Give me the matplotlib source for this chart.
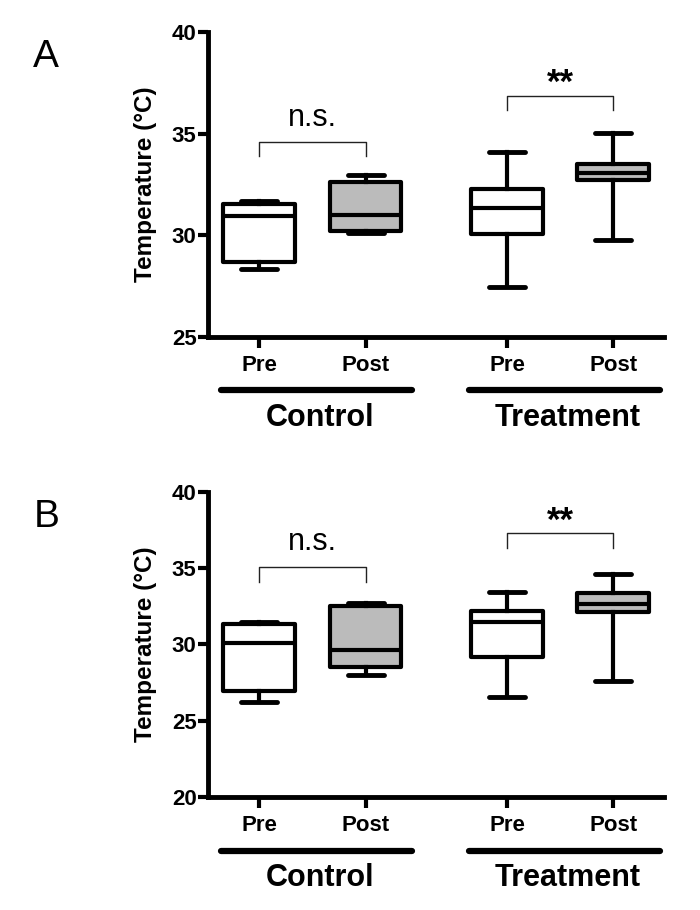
import matplotlib
matplotlib.use('Agg')
import matplotlib.pyplot as plt
from matplotlib.transforms import blended_transform_factory

plt.rcParams['font.family'] = ['Liberation Sans', 'DejaVu Sans']

groups = ['Control', 'Treatment']
conditions = ['Pre', 'Post', 'Pre', 'Post']
positions = [1, 2, 3.33, 4.33]
fills = ['white', '#bbbbbb', 'white', '#bbbbbb']

# Panel A (°C): lower whisker, Q1, median, Q3, upper whisker
a_whislo = [28.33, 30.10, 27.44, 29.77]
a_q1 = [28.70, 30.20, 30.05, 32.72]
a_med = [30.95, 31.00, 31.36, 33.08]
a_q3 = [31.55, 32.64, 32.26, 33.49]
a_whishi = [31.69, 32.95, 34.11, 35.05]

# Panel B (°C)
b_whislo = [26.22, 28.02, 26.54, 27.63]
b_q1 = [26.96, 28.51, 29.16, 32.15]
b_med = [30.12, 29.64, 31.45, 32.63]
b_q3 = [31.32, 32.54, 32.21, 33.35]
b_whishi = [31.45, 32.74, 33.46, 34.61]

sig_labels = ['n.s.', '**']
a_bracket_top = [34.60, 36.87]
a_bracket_leg = [33.90, 36.16]
b_bracket_top = [35.09, 37.28]
b_bracket_leg = [34.10, 36.30]

fig = plt.figure(figsize=(7, 9.1), dpi=100)


def panel(rect, letter, letter_y, whislo, q1, med, q3, whishi, ylim, yticks, btop, bleg):
    ax = fig.add_axes(rect)
    stats = []
    for i in range(len(positions)):
        stats.append(dict(whislo=whislo[i], q1=q1[i], med=med[i], q3=q3[i], whishi=whishi[i]))
    bp = ax.bxp(stats, positions=positions, widths=0.675, capwidths=0.34,
                patch_artist=True, showfliers=False,
                boxprops=dict(linewidth=3, edgecolor='black', joinstyle='round'),
                whiskerprops=dict(linewidth=3, color='black'),
                capprops=dict(linewidth=3.5, color='black', solid_capstyle='round'),
                medianprops=dict(linewidth=3, color='black'))
    for patch, c in zip(bp['boxes'], fills):
        patch.set_facecolor(c)
    ax.set_xlim(0.515, 4.807)
    ax.set_ylim(*ylim)
    ax.set_yticks(yticks)
    ax.set_xticks(positions)
    ax.set_xticklabels(conditions, fontsize=16, fontweight='bold')
    for t in ax.get_yticklabels():
        t.set_fontsize(16)
        t.set_fontweight('bold')
    ax.tick_params(axis='y', length=7, width=3, pad=1)
    ax.tick_params(axis='x', length=8, width=3, pad=5)
    for s in ['top', 'right']:
        ax.spines[s].set_visible(False)
    for s in ['left', 'bottom']:
        ax.spines[s].set_linewidth(3.5)
    ax.set_ylabel('Temperature (°C)', fontsize=17.5, fontweight='bold')
    ax.yaxis.set_label_coords(-0.111, 0.5)

    # significance brackets
    pairs = [(positions[0], positions[1]), (positions[2], positions[3])]
    span = ylim[1] - ylim[0]
    for (x0, x1), lab, top, leg in zip(pairs, sig_labels, btop, bleg):
        ax.plot([x0, x0, x1, x1], [leg, top, top, leg], color='#222222', lw=1.0,
                clip_on=False)
        if lab == 'n.s.':
            ax.text((x0 + x1) / 2, top + 0.03 * span, lab, ha='center', va='bottom',
                    fontsize=22)
        else:
            ax.text((x0 + x1) / 2, top - 0.015 * span, lab, ha='center', va='bottom',
                    fontsize=25, fontweight='bold')

    # group lines and labels
    tr = blended_transform_factory(ax.transData, ax.transAxes)
    centers = [(positions[0] + positions[1]) / 2 + 0.04, (positions[2] + positions[3]) / 2 + 0.04]
    for c, g in zip(centers, groups):
        ax.plot([c - 0.9, c + 0.9], [-0.175, -0.175], transform=tr, color='black',
                lw=4.5, solid_capstyle='round', clip_on=False)
        ax.text(c + 0.03, -0.265, g, transform=tr, ha='center', va='center',
                fontsize=22, fontweight='bold')
    fig.text(0.066, letter_y, letter, ha='center', va='center', fontsize=28)
    return ax


panel([0.2967, 0.6297, 0.652, 0.335], 'A', 1 - 57 / 910, a_whislo, a_q1, a_med, a_q3, a_whishi,
      (25, 40), [25, 30, 35, 40], a_bracket_top, a_bracket_leg)
panel([0.2967, 0.1238, 0.652, 0.336], 'B', 1 - 517 / 910, b_whislo, b_q1, b_med, b_q3, b_whishi,
      (20, 40), [20, 25, 30, 35, 40], b_bracket_top, b_bracket_leg)

fig.savefig('out.png', dpi=100)
